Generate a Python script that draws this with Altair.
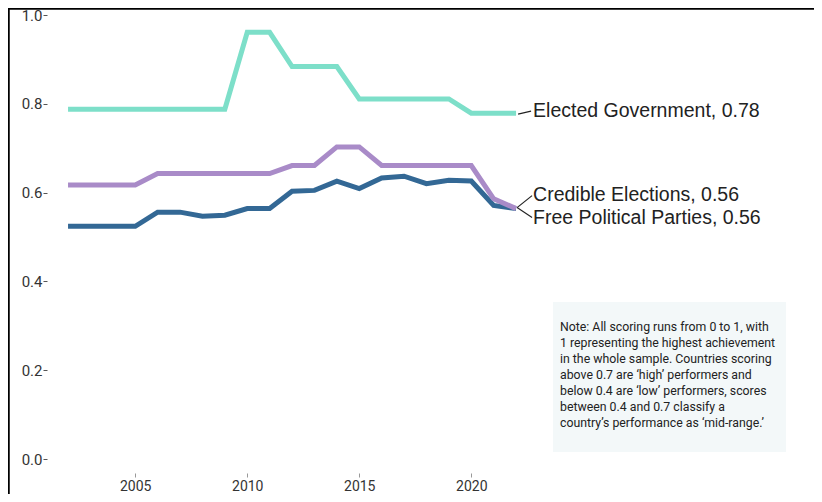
import altair as alt
import pandas as pd

# ---------------- data ----------------
years = [2002, 2003, 2004, 2005, 2006, 2007, 2008, 2009, 2010, 2011, 2012,
         2013, 2014, 2015, 2016, 2017, 2018, 2019, 2020, 2021, 2022]
elected_government = [0.788, 0.788, 0.788, 0.788, 0.788, 0.788, 0.788, 0.788, 0.961, 0.961, 0.884,
                      0.884, 0.884, 0.811, 0.811, 0.811, 0.811, 0.811, 0.779, 0.779, 0.779]
credible_elections = [0.617, 0.617, 0.617, 0.617, 0.643, 0.643, 0.643, 0.643, 0.643, 0.643, 0.661,
                      0.661, 0.703, 0.703, 0.661, 0.661, 0.661, 0.661, 0.661, 0.586, 0.564]
free_political_parties = [0.524, 0.524, 0.524, 0.524, 0.556, 0.556, 0.547, 0.549, 0.564, 0.564, 0.603,
                          0.605, 0.626, 0.609, 0.633, 0.637, 0.620, 0.628, 0.626, 0.571, 0.564]
series_names = ["Elected Government", "Credible Elections", "Free Political Parties"]
series_colors = ["#7ddfc9", "#a98bc8", "#336895"]
y_ticks = [0.0, 0.2, 0.4, 0.6, 0.8, 1.0]
x_ticks = [2005, 2010, 2015, 2020]
note_lines = [
    "Note: All scoring runs from 0 to 1, with",
    "1 representing the highest achievement",
    "in the whole sample. Countries scoring",
    "above 0.7 are \u2018high\u2019 performers and",
    "below 0.4 are \u2018low\u2019 performers, scores",
    "between 0.4 and 0.7 classify a",
    "country\u2019s performance as \u2018mid-range.\u2019",
]

rows = []
for name, vals in zip(series_names, [elected_government, credible_elections, free_political_parties]):
    for yr, v in zip(years, vals):
        rows.append({"series": name, "year": yr, "value": v})
df = pd.DataFrame(rows)
last = df[df["year"] == years[-1]].copy()
last["label"] = last["series"] + ", " + last["value"].map(lambda v: f"{v:.2f}")
one = pd.DataFrame({"k": [0]})

# ---------------- layout ----------------
W, H = 806, 486
xscale = alt.Scale(domain=[1999.32, 2035.30], nice=False, zero=False)
yscale = alt.Scale(domain=[-0.0788, 1.0158], nice=False, zero=False)
color_scale = alt.Scale(domain=series_names, range=series_colors)

x_enc = alt.X("year:Q", scale=xscale, title=None,
              axis=alt.Axis(values=x_ticks, format="d", orient="bottom", offset=-21,
                            domain=False, grid=False, tickSize=4, tickColor="#999999",
                            tickWidth=1, labelPadding=2, labelFont="Roboto",
                            labelFontSize=14, labelColor="#333333"))
y_enc = alt.Y("value:Q", scale=yscale, title=None,
              axis=alt.Axis(values=y_ticks, format=".1f", orient="left", offset=-39,
                            domain=False, grid=False, tickSize=4, tickColor="#555555",
                            tickWidth=1, labelPadding=1, labelFont="Roboto",
                            labelFontSize=15, labelColor="#333333"))
c_enc = alt.Color("series:N", scale=color_scale, legend=None)

def line_layer(name):
    return alt.Chart(df).transform_filter(alt.datum.series == name).mark_line(
        strokeWidth=5).encode(x=x_enc, y=y_enc, color=c_enc)

lines = [line_layer("Free Political Parties"),
         line_layer("Credible Elections"),
         line_layer("Elected Government")]

label_dy = {"Elected Government": -2, "Credible Elections": -14, "Free Political Parties": 9}
conn = {"Elected Government": (2, 1, 15, -2),
        "Credible Elections": (1, -1, 16, -13),
        "Free Political Parties": (1, -1, 16, 9)}

labels = []
for name in series_names:
    xo, yo, x2o, y2o = conn[name]
    labels.append(
        alt.Chart(last).transform_filter(alt.datum.series == name).mark_rule(
            color="#222222", strokeWidth=1.2, xOffset=xo, yOffset=yo,
            x2Offset=x2o, y2Offset=y2o).encode(
            x=x_enc, y=y_enc, x2="year:Q", y2="value:Q"))
    labels.append(
        alt.Chart(last).transform_filter(alt.datum.series == name).mark_text(
            align="left", baseline="middle", dx=17, dy=label_dy[name],
            font="Liberation Sans", fontSize=19.5, color="#222222").encode(
            x=x_enc, y=y_enc, text="label:N"))

frame_top = alt.Chart(one).mark_rule(color="black", strokeWidth=2.5).encode(
    x=alt.value(0), x2=alt.value(W), y=alt.value(0.5))
frame_left = alt.Chart(one).mark_rule(color="black", strokeWidth=2.5).encode(
    x=alt.value(0.5), y=alt.value(0), y2=alt.value(H))

note_box = alt.Chart(one).mark_rect(color="#f3f8f9").encode(
    x=alt.value(545), x2=alt.value(778), y=alt.value(294), y2=alt.value(444))
note_text = alt.Chart(one).mark_text(
    align="left", baseline="top", font="Roboto", fontSize=12.3, lineHeight=16,
    color="#222222").encode(x=alt.value(552), y=alt.value(313), text=alt.value(note_lines))

chart = alt.layer(note_box, note_text, *lines, *labels, frame_top, frame_left).properties(
    width=W, height=H, padding=0, autosize=alt.AutoSizeParams(type="none"),
    background="white",
).configure_view(stroke=None)

chart.save("out.html", embed_options={"renderer": "svg", "actions": False})
